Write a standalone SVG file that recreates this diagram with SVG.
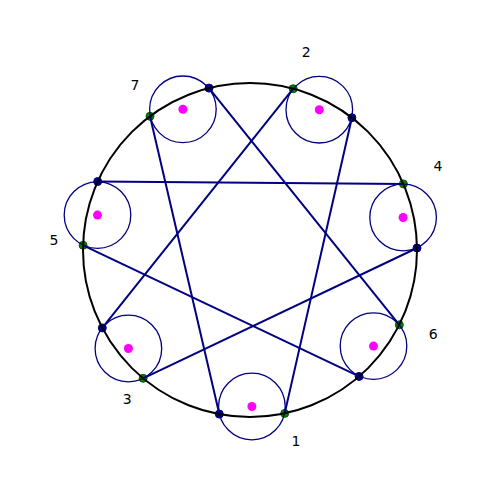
<svg xmlns="http://www.w3.org/2000/svg" width="500" height="500" viewBox="0 0 500 500">
<style>
.bg{fill:#ffffff}
.big{fill:none;stroke:#000000;stroke-width:2}
.small{fill:none;stroke:#000080;stroke-width:1.3}
.chord{stroke:#000080;stroke-width:2;fill:none}
.bdot{fill:#000080;stroke:#000080;stroke-width:1}
.gdot{fill:#008000;stroke:#006000;stroke-width:1}
.mdot{fill:#ff00ff}
.lbl{font-family:"DejaVu Sans","Liberation Sans",sans-serif;font-size:14px;fill:#000000;text-anchor:middle}
</style>
<rect class="bg" x="0" y="0" width="500" height="500"/>
<g id="points">
<circle class="bdot" cx="219.3" cy="414.1" r="4"/>
<circle class="gdot" cx="284.7" cy="413.4" r="4"/>
<circle class="bdot" cx="359.1" cy="376.4" r="4"/>
<circle class="gdot" cx="399.3" cy="324.8" r="4"/>
<circle class="bdot" cx="417.0" cy="248.0" r="4"/>
<circle class="gdot" cx="403.4" cy="183.9" r="4"/>
<circle class="bdot" cx="351.9" cy="117.7" r="4"/>
<circle class="gdot" cx="293.2" cy="88.7" r="4"/>
<circle class="bdot" cx="209.0" cy="88.1" r="4"/>
<circle class="gdot" cx="150.0" cy="116.3" r="4"/>
<circle class="bdot" cx="97.7" cy="181.5" r="4"/>
<circle class="gdot" cx="83.1" cy="245.3" r="4"/>
<circle class="bdot" cx="102.3" cy="327.9" r="4"/>
<circle class="gdot" cx="143.1" cy="378.3" r="4"/>
</g>
<g id="connectors">
<line class="chord" x1="219.3" y1="414.1" x2="150.0" y2="116.3"/>
<line class="chord" x1="284.7" y1="413.4" x2="351.9" y2="117.7"/>
<line class="chord" x1="293.2" y1="88.7" x2="102.3" y2="327.9"/>
<line class="chord" x1="209.0" y1="88.1" x2="399.3" y2="324.8"/>
<line class="chord" x1="97.7" y1="181.5" x2="403.4" y2="183.9"/>
<line class="chord" x1="83.1" y1="245.3" x2="359.1" y2="376.4"/>
<line class="chord" x1="417.0" y1="248.0" x2="143.1" y2="378.3"/>
</g>
<g id="node1"><circle class="small" cx="251.9" cy="406.5" r="33.3"/><circle class="mdot" cx="251.9" cy="406.5" r="4.5"/><text class="lbl" x="296" y="446">1</text></g>
<g id="node2"><circle class="small" cx="319.3" cy="109.7" r="33.3"/><circle class="mdot" cx="319.3" cy="109.7" r="4.5"/><text class="lbl" x="306.3" y="57">2</text></g>
<g id="node3"><circle class="small" cx="128.4" cy="348.5" r="33.3"/><circle class="mdot" cx="128.4" cy="348.5" r="4.5"/><text class="lbl" x="127.3" y="404">3</text></g>
<g id="node4"><circle class="small" cx="403.1" cy="217.5" r="33.3"/><circle class="mdot" cx="403.1" cy="217.5" r="4.5"/><text class="lbl" x="438" y="171">4</text></g>
<g id="node5"><circle class="small" cx="97.5" cy="215.1" r="33.3"/><circle class="mdot" cx="97.5" cy="215.1" r="4.5"/><text class="lbl" x="54" y="245.3">5</text></g>
<g id="node6"><circle class="small" cx="373.5" cy="346.1" r="33.3"/><circle class="mdot" cx="373.5" cy="346.1" r="4.5"/><text class="lbl" x="433.3" y="339">6</text></g>
<g id="node7"><circle class="small" cx="182.9" cy="109.3" r="33.3"/><circle class="mdot" cx="182.9" cy="109.3" r="4.5"/><text class="lbl" x="135" y="90.3">7</text></g>
<g id="outer"><circle class="big" cx="250" cy="250" r="167"/></g>
</svg>
